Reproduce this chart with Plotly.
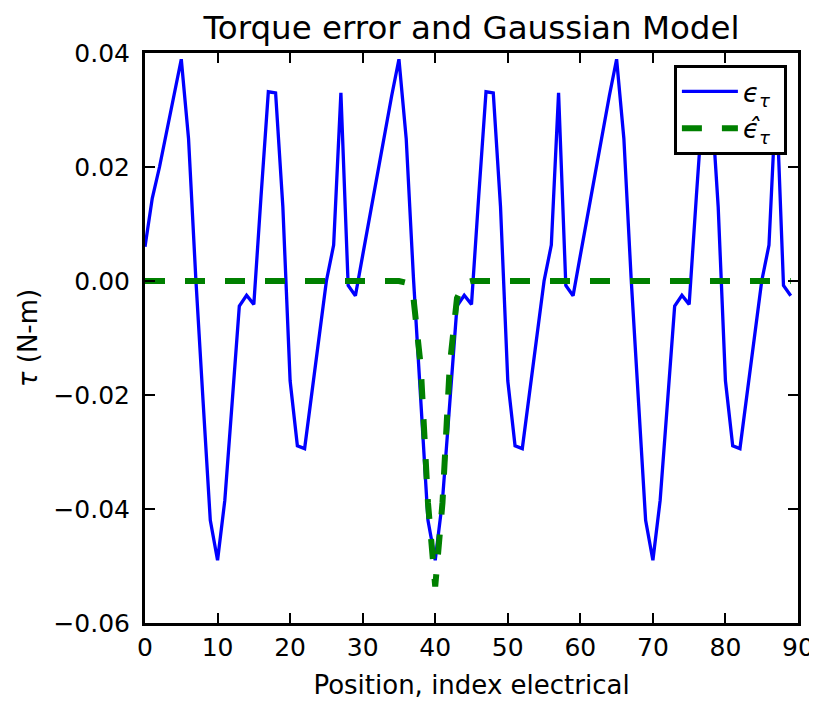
import plotly.graph_objects as go

position = list(range(90))

torque_error = [
    0.0060, 0.0145, 0.0200, 0.0265, 0.0328, 0.0389, 0.0250, 0.0005, -0.0210, -0.0420,
    -0.0490, -0.0385, -0.0215, -0.0044, -0.0025, -0.0041, 0.0150, 0.0332, 0.0330, 0.0130,
    -0.0175, -0.0289, -0.0294, -0.0195, -0.0095, 0.0000, 0.0063, 0.0330, -0.0008, -0.0026,
    0.0045, 0.0115, 0.0190, 0.0260, 0.0325, 0.0389, 0.0250, 0.0005, -0.0210, -0.0420,
    -0.0490, -0.0385, -0.0215, -0.0044, -0.0025, -0.0041, 0.0150, 0.0332, 0.0330, 0.0130,
    -0.0175, -0.0289, -0.0294, -0.0195, -0.0095, 0.0000, 0.0063, 0.0330, -0.0008, -0.0026,
    0.0045, 0.0115, 0.0190, 0.0260, 0.0325, 0.0389, 0.0250, 0.0005, -0.0210, -0.0420,
    -0.0490, -0.0385, -0.0215, -0.0044, -0.0025, -0.0041, 0.0150, 0.0332, 0.0330, 0.0130,
    -0.0175, -0.0289, -0.0294, -0.0195, -0.0095, 0.0000, 0.0063, 0.0330, -0.0008, -0.0026,
]

gaussian_model = [0.0] * 36 + [
    -0.0003, -0.0030, -0.0149, -0.0389, -0.0536, -0.0389, -0.0149, -0.0030, -0.0003,
] + [0.0] * 45

x_ticks = [0, 10, 20, 30, 40, 50, 60, 70, 80, 90]
y_ticks = [-0.06, -0.04, -0.02, 0.00, 0.02, 0.04]

FONT = "DejaVu Sans"

fig = go.Figure()
fig.add_trace(go.Scatter(
    x=position, y=torque_error, mode="lines",
    line=dict(color="#0000ff", width=3.3),
    name="<i>ϵ</i><sub><i>τ</i></sub>\u00a0",
))
fig.add_trace(go.Scatter(
    x=position, y=gaussian_model, mode="lines",
    line=dict(color="#008000", width=6, dash="20px,20px"),
    name="<i>ϵ̂</i><sub><i>τ</i></sub>\u00a0",
))

axis_common = dict(
    showgrid=False, zeroline=False,
    showline=True, linecolor="black", linewidth=3, mirror="ticks",
    ticks="inside", ticklen=10, tickwidth=1.5, tickcolor="black",
    tickfont=dict(family=FONT, size=25, color="black"),
)

fig.update_layout(
    width=817, height=702,
    paper_bgcolor="white", plot_bgcolor="white",
    margin=dict(l=137, r=27, t=45, b=87),
    title=dict(text="Torque error and Gaussian Model", x=0.5, xanchor="center",
               xref="paper",
               y=0.972, yanchor="middle",
               font=dict(family=FONT, size=32.5, color="black")),
    xaxis=dict(range=[0, 90], tickvals=x_ticks, ticklabelstandoff=0,
               title=dict(text="Position, index electrical", standoff=15,
                          font=dict(family=FONT, size=26, color="black")),
               **axis_common),
    yaxis=dict(range=[-0.06, 0.04], tickvals=y_ticks, tickformat=".2f",
               ticklabelstandoff=7,
               title=dict(text="<i>τ</i> (N-m)", standoff=9,
                          font=dict(family=FONT, size=26, color="black")),
               **axis_common),
    legend=dict(x=0.983, y=0.979, xanchor="right", yanchor="top",
                bgcolor="white", bordercolor="black", borderwidth=3,
                font=dict(family=FONT, size=26, color="black"),
                itemwidth=56, tracegroupgap=4),
    showlegend=True,
)

fig.write_html("out.html")
